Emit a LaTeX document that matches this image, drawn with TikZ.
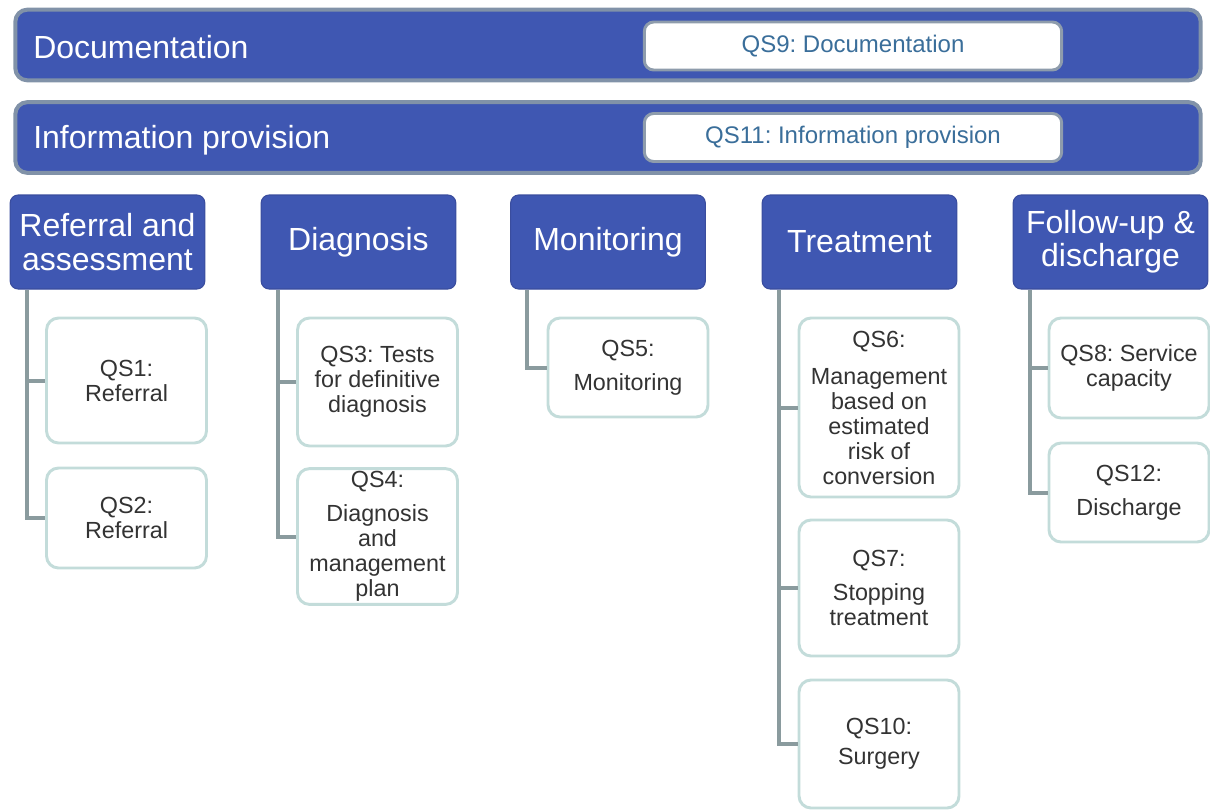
\documentclass[tikz,border=0pt]{standalone}
\usepackage{fontspec}
\setmainfont{Liberation Sans}
\frenchspacing
\usetikzlibrary{positioning}

\definecolor{barblue}{HTML}{3F57B2}
\definecolor{baredge}{HTML}{8192A8}
\definecolor{stageedge}{HTML}{3A4D9E}
\definecolor{boxedge}{HTML}{C3DCDA}
\definecolor{qsedge}{HTML}{8E9CAC}
\definecolor{linkgray}{HTML}{8A9B9E}
\definecolor{qsblue}{HTML}{3A6E9A}
\definecolor{txtgray}{HTML}{333333}

\tikzset{
  bar/.style={draw=baredge, line width=3pt, fill=barblue, rounded corners=9pt,
    minimum width=889pt, minimum height=53pt},
  bartext/.style={text=white, font=\fontsize{24}{28}\selectfont, inner sep=0pt, anchor=base west},
  qsbar/.style={draw=qsedge, line width=2.2pt, fill=white, rounded corners=7pt,
    minimum width=313pt, minimum height=36pt, text=qsblue, font=\fontsize{18}{20}\selectfont},
  stage/.style={draw=stageedge, line width=0.8pt, fill=barblue, rounded corners=6pt,
    minimum width=146pt, minimum height=70.5pt, text=white, align=center, inner sep=2pt,
    font=\fontsize{24}{25}\selectfont},
  qsbox/.style={draw=boxedge, line width=2.2pt, fill=white, rounded corners=9pt,
    minimum width=120pt, align=center, text=txtgray, inner sep=2pt,
    font=\fontsize{17.5}{18.75}\selectfont},
  link/.style={draw=linkgray, line width=3pt},
}

\begin{document}
\begin{tikzpicture}[x=0.75pt, y=-0.75pt]
    \useasboundingbox (0,0) rectangle (1210,810);
    % 横向总栏
    \node[bar] (doc) at (608,45) {};
    \node[bartext] (doclab) at (33,58) {Documentation};
    \node[qsbar] (qs9) at (853,46) {QS9: Documentation};
    \node[bar] (info) at (608,137.5) {};
    \node[bartext] (infolab) at (33,148) {Information provision};
    \node[qsbar] (qs11) at (853,137.5) {QS11: Information provision};
    % 各阶段
    \node[stage] (ref) at (107.5,242) {Referral and\\assessment};
    \node[stage] (diag) at (358.5,242) {Diagnosis};
    \node[stage] (mon) at (608,242) {Monitoring};
    \node[stage] (treat) at (859.5,242) {Treatment};
    \node[stage] (follow) at (1110.5,242) {Follow-up \&\\discharge};
    % 质量标准
    \node[qsbox, minimum height=93.75pt] (qs1) at (126.5,380.5) {QS1:\\Referral};
    \node[qsbox, minimum height=75pt] (qs2) at (126.5,518) {QS2:\\Referral};
    \node[qsbox, minimum height=96pt] (qs3) at (377.5,382) {QS3: Tests\\for definitive\\diagnosis};
    \node[qsbox, minimum height=98.25pt] (qs4) at (377.5,536.5) {QS4:\\[7pt]Diagnosis\\and\\management\\plan};
    \node[qsbox, minimum height=74.25pt] (qs5) at (628,367.5) {QS5:\\[7pt]Monitoring};
    \node[qsbox, minimum height=134.25pt] (qs6) at (879,407.5) {QS6:\\[9pt]Management\\based on\\estimated\\risk of\\conversion};
    \node[qsbox, minimum height=102pt] (qs7) at (879,588) {QS7:\\[7pt]Stopping\\treatment};
    \node[qsbox, minimum height=96pt] (qs10) at (879,744) {QS10:\\[4pt]Surgery};
    \node[qsbox, minimum height=75pt] (qs8) at (1129,368) {QS8: Service\\capacity};
    \node[qsbox, minimum height=74.25pt] (qs12) at (1129,492.5) {QS12:\\[7pt]Discharge};
    % 连线
    \draw[link] ([xshift=13pt]ref.south west) |- (qs1.west);
    \draw[link] ([xshift=13pt]ref.south west) |- (qs2.west);
    \draw[link] ([xshift=13pt]diag.south west) |- (qs3.west);
    \draw[link] ([xshift=13pt]diag.south west) |- (qs4.west);
    \draw[link] ([xshift=13pt]mon.south west) |- (qs5.west);
    \draw[link] ([xshift=13pt]treat.south west) |- (qs6.west);
    \draw[link] ([xshift=13pt]treat.south west) |- (qs7.west);
    \draw[link] ([xshift=13pt]treat.south west) |- (qs10.west);
    \draw[link] ([xshift=13pt]follow.south west) |- (qs8.west);
    \draw[link] ([xshift=13pt]follow.south west) |- (qs12.west);
\end{tikzpicture}
\end{document}
